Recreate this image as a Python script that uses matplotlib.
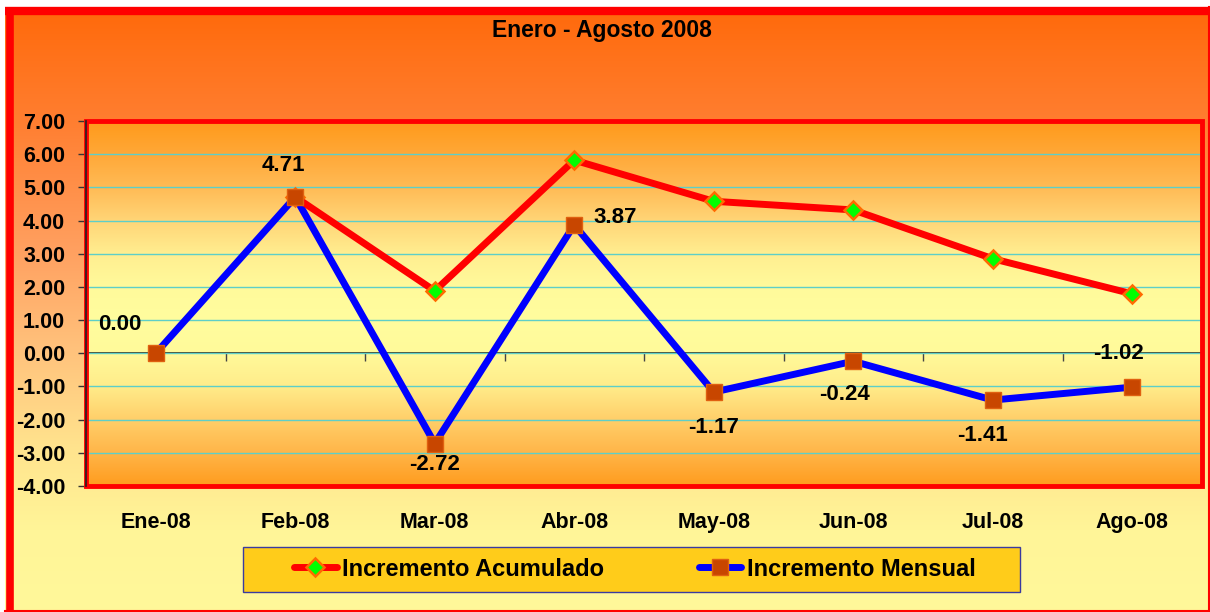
import numpy as np
import matplotlib
matplotlib.use("Agg")
import matplotlib.pyplot as plt
from matplotlib.patches import Rectangle
from matplotlib.lines import Line2D
from matplotlib.colors import to_rgb

plt.rcParams['font.family'] = ['Liberation Sans', 'DejaVu Sans']
plt.rcParams['font.weight'] = 'bold'

# ---- data ----
categories = ["Ene-08", "Feb-08", "Mar-08", "Abr-08", "May-08", "Jun-08", "Jul-08", "Ago-08"]
acumulado = [np.nan, 4.71, 1.88, 5.82, 4.58, 4.32, 2.85, 1.79]
mensual = [0.00, 4.71, -2.72, 3.87, -1.17, -0.24, -1.41, -1.02]
mensual_labels = ["0.00", "4.71", "-2.72", "3.87", "-1.17", "-0.24", "-1.41", "-1.02"]
y_ticks = list(range(-4, 8))
title = "Enero - Agosto 2008"
series_names = ["Incremento Acumulado", "Incremento Mensual"]

# label offsets (pixels) for the data labels
label_offsets = [(-36, 29), (-12, 31), (0, -21), (41, 7), (0, -35), (-9, -33), (-10, -35), (-14, 34)]

W, H = 1210, 612
fig = plt.figure(figsize=(W / 100, H / 100), dpi=100)
fig.patch.set_facecolor('white')

def gradient(stops, n=600):
    pos = np.array([s[0] for s in stops], dtype=float)
    cols = np.array([to_rgb(s[1]) for s in stops])
    t = np.linspace(pos.min(), pos.max(), n)
    img = np.stack([np.interp(t, pos, cols[:, k]) for k in range(3)], axis=-1)
    return t, img

# ---- background axes (pixel coordinates) ----
bg = fig.add_axes([0, 0, 1, 1])
bg.set_xlim(0, W)
bg.set_ylim(H, 0)
bg.axis('off')
outer_stops = [(7, '#FF690A'), (120, '#FF7E30'), (250, '#FFA060'), (350, '#FFC27C'),
               (450, '#FFE48E'), (530, '#FFF598'), (612, '#FFF89A')]
t, img = gradient(outer_stops)
bg.imshow(img[:, None, :], extent=(5, W, t.max(), t.min()), aspect='auto', zorder=0)
# outer border
bg.plot([5, W], [11, 11], color='#FF0000', lw=6, solid_capstyle='butt', zorder=2)
bg.plot([9.5, 9.5], [7, H], color='#FF0000', lw=5.5, solid_capstyle='butt', zorder=2)
bg.plot([W - 1.5, W - 1.5], [7, H], color='#FF0000', lw=1.5, zorder=2)
bg.plot([5, W], [H - 1.2, H - 1.2], color='#FF0000', lw=1.5, zorder=2)
# legend box
bg.add_patch(Rectangle((243, 547), 777, 45, facecolor='#FFCC1A', edgecolor='#3A3AA0', lw=1, zorder=2))

fig.text(602 / W, 1 - 31 / H, title, ha='center', va='center', fontsize=16.5, fontweight='bold')

# ---- main axes ----
left, right, top, bottom = 86, 1202, 121, 486
ax = fig.add_axes([left / W, 1 - bottom / H, (right - left) / W, (bottom - top) / H])
ymin, ymax = -4, 7
ax.set_xlim(-0.5, len(categories) - 0.5)
ax.set_ylim(ymin, ymax)
ax.patch.set_visible(False)

plot_stops = [(-4, '#FF9C1E'), (-3, '#FFB548'), (-2, '#FFCF6A'), (-1, '#FFEC8A'), (0, '#FFFA9A'),
              (1, '#FFFD9E'), (2, '#FFFA9B'), (3, '#FFEE90'), (4, '#FFD577'), (5, '#FFBB55'),
              (6, '#FFA838'), (7, '#FF9A1A')]
t2, img2 = gradient(plot_stops)
ax.imshow(img2[::-1, None, :], extent=(-0.5, len(categories) - 0.5, ymin, ymax), aspect='auto', zorder=0)

ax.set_yticks(y_ticks)
ax.set_yticklabels([f"{v:.2f}" for v in y_ticks], fontsize=15.5, fontweight='bold')
ax.yaxis.grid(True, color='#5ECFC8', lw=1, zorder=1)
ax.set_axisbelow(True)
ax.tick_params(axis='y', direction='out', length=6, width=1, color='#333333', pad=9)

x = np.arange(len(categories))
ax.set_xticks(x)
ax.set_xticklabels(categories, fontsize=15.5, fontweight='bold')
ax.tick_params(axis='x', length=0, pad=19)

for s in ['top', 'right', 'bottom']:
    ax.spines[s].set_visible(False)
ax.spines['left'].set_color('#222222')
ax.spines['left'].set_linewidth(1.2)
ax.spines['left'].set_zorder(6)

# zero axis with category boundary ticks
sec = ax.secondary_xaxis((0 - ymin) / (ymax - ymin))
sec.set_xticks(np.arange(len(categories) + 1) - 0.5)
sec.set_xticklabels([])
sec.tick_params(direction='out', length=6, width=1, color='#444444')
sec.spines['bottom'].set_color('#3A3520')
sec.spines['bottom'].set_linewidth(1.3)
for s in ['top', 'left', 'right']:
    sec.spines[s].set_visible(False)

# plot border
ax.add_patch(Rectangle((0, 0), 1, 1, transform=ax.transAxes, fill=False, edgecolor='#FF0000',
                       lw=3.5, zorder=5, clip_on=False))

# series
ax.plot(x, mensual, color='#0000FF', lw=5, zorder=3, solid_capstyle='round')
ax.plot(x, acumulado, color='#FF0000', lw=5, zorder=3.5, solid_capstyle='round')
ax.plot(x, acumulado, ls='none', marker='D', ms=9, mfc='#00FF00', mec='#FF6A00', mew=1.8, zorder=4)
ax.plot(x, mensual, ls='none', marker='s', ms=11, mfc='#C84600', mec='#E06010', mew=1, zorder=4.5)

for xi, yi, lab, off in zip(x, mensual, mensual_labels, label_offsets):
    ax.annotate(lab, (xi, yi), xytext=off, textcoords='offset pixels', ha='center', va='center',
                fontsize=16, fontweight='bold', zorder=7)

# legend
handles = [
    Line2D([], [], color='#FF0000', lw=5, marker='D', ms=9, mfc='#00FF00', mec='#FF6A00', mew=1.8,
           solid_capstyle='round'),
    Line2D([], [], color='#0000FF', lw=5, marker='s', ms=11, mfc='#C84600', mec='#E06010', mew=1,
           solid_capstyle='round'),
]
fig.legend(handles, series_names, loc='center', bbox_to_anchor=(635 / W, 1 - 569 / H),
           ncol=2, frameon=False, prop={'size': 17, 'weight': 'bold'},
           handlelength=1.8, handletextpad=0.25, columnspacing=4.0, borderpad=0)

fig.savefig('out.png', dpi=100)
